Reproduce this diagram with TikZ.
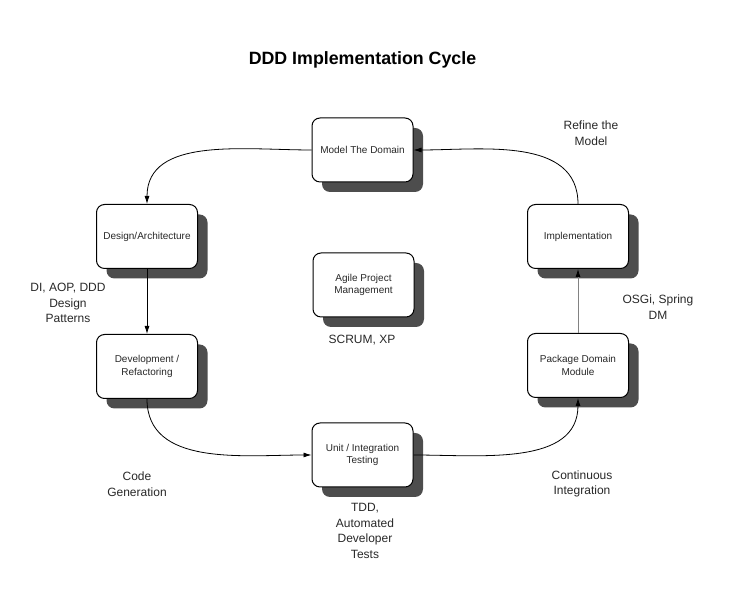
\documentclass[tikz,border=0pt]{standalone}
\usepackage{fontspec}
\setmainfont{Liberation Sans}
\usetikzlibrary{arrows.meta, positioning, shadows}
\definecolor{shadowgray}{RGB}{77,77,77}
\definecolor{linkgray}{RGB}{130,130,130}
\definecolor{textgray}{RGB}{40,40,40}

\begin{document}
\begin{tikzpicture}[x=1pt, y=1pt,
    stage/.style={rectangle, rounded corners=8pt, draw=black, line width=1pt, fill=white, minimum width=101pt, minimum height=64pt, align=center, inner sep=2pt, text=textgray, font=\fontsize{10}{12.5}\selectfont, drop shadow={shadow xshift=10pt, shadow yshift=-10pt, fill=shadowgray, opacity=1}},
    note/.style={align=center, text=textgray, font=\fontsize{12}{15.5}\selectfont},
    arrow/.style={-{Latex[length=8pt, width=5pt, color=black]}, line width=0.8pt, color=black}
]
\useasboundingbox (0,0) rectangle (740,591);
\node[font=\bfseries\fontsize{17.8}{20}\selectfont] (title) at (362.5,531) {DDD Implementation Cycle};
% cycle stages
\node[stage] (model) at (362.5,441) {Model The Domain};
\node[stage] (design) at (147,354.5) {Design/Architecture};
\node[stage, below=65pt of design] (dev) {Development /\\Refactoring};
\node[stage] (unit) at (362.5,136) {Unit / Integration\\Testing};
\node[stage] (impl) at (578,354.5) {Implementation};
\node[stage, below=64pt of impl] (package) {Package Domain\\Module};
\node[stage] (agile) at (363.5,306) {Agile Project\\Management};
% notes
\node[note] (refine) at (591,458) {Refine the\\Model};
\node[note] (patterns) at (68,288) {DI, AOP, DDD\\Design\\Patterns};
\node[note] (scrum) at (362,251) {SCRUM, XP};
\node[note] (osgi) at (658,284) {OSGi, Spring\\DM};
\node[note] (codegen) at (137,107) {Code\\Generation};
\node[note] (tdd) at (365,60) {TDD,\\Automated\\Developer\\Tests};
\node[note] (ci) at (582,107) {Continuous\\Integration};
% connectors
\draw[arrow] (model.west) to[out=180, in=90] (design.north);
\draw[arrow] (design.south) -- (dev.north);
\draw[arrow] (dev.south) to[out=-90, in=180] (unit.west);
\draw[arrow] (unit.east) to[out=0, in=-90] (package.south);
\draw[arrow, color=linkgray] (package.north) -- (impl.south);
\draw[arrow] (impl.north) to[out=90, in=0] (model.east);
\end{tikzpicture}
\end{document}
